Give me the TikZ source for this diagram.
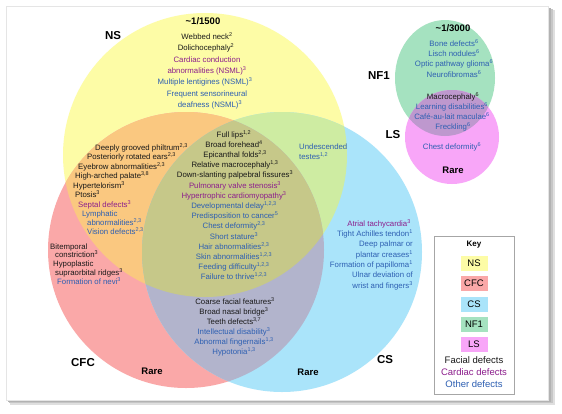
\documentclass[tikz,border=0pt]{standalone}
\usepackage{fontspec}
\setmainfont{Liberation Sans}
\newcommand\sups[1]{\textsuperscript{#1}}
\definecolor{nsC}{RGB}{253,252,166}
\definecolor{cfcC}{RGB}{250,168,168}
\definecolor{csC}{RGB}{170,228,250}
\definecolor{nscfc}{RGB}{250,200,128}
\definecolor{nscs}{RGB}{206,236,162}
\definecolor{cfccs}{RGB}{178,180,204}
\definecolor{allC}{RGB}{198,200,137}
\definecolor{nfC}{RGB}{165,226,192}
\definecolor{lsC}{RGB}{248,166,248}
\definecolor{nflsC}{RGB}{190,152,206}
\definecolor{facC}{RGB}{25,25,25}
\definecolor{carC}{RGB}{140,30,140}
\definecolor{othC}{RGB}{45,95,178}
\begin{document}
\begin{tikzpicture}[x=1pt,y=-1pt,
  tx/.style={font=\fontsize{7.8}{8.5}\selectfont, inner sep=0pt, anchor=mid},
  fa/.style={tx, text=facC},
  ca/.style={tx, text=carC},
  ot/.style={tx, text=othC},
  biglab/.style={font=\bfseries\fontsize{11.5}{13}\selectfont, inner sep=0pt, text=black, anchor=mid},
  rarelab/.style={font=\bfseries\fontsize{9.5}{11}\selectfont, inner sep=0pt, text=black, anchor=mid},
  freqlab/.style={font=\bfseries\fontsize{9.5}{10}\selectfont, inner sep=0pt, text=black, anchor=mid},
  swatch/.style={minimum width=27pt, minimum height=15pt, inner sep=0pt, font=\fontsize{9.5}{10}\selectfont, text=black},
  keytx/.style={font=\fontsize{9.5}{10}\selectfont, inner sep=0pt, anchor=mid}
]
\useasboundingbox (0,0) rectangle (562,413);
\fill[white] (0,0) rectangle (562,413);
% panel with shadow
\fill[gray!25] (10,10) rectangle (555,405);
\fill[gray!45] (9,9) rectangle (553,403);
\fill[gray!60] (8,8) rectangle (551,401.5);
\filldraw[fill=white, draw=gray!20, line width=0.5pt] (6,6) rectangle (548,400);
% circle paths
\def\NSp{(205,155) circle[radius=142pt]}
\def\CFCp{(186,250) circle[radius=138pt]}
\def\CSp{(282,252) circle[radius=140pt]}
\def\NFp{(445,78) ellipse[x radius=50pt, y radius=58pt]}
\def\LSp{(452,137) circle[radius=47pt]}
\fill[nsC] \NSp;
\fill[cfcC] \CFCp;
\fill[csC] \CSp;
\begin{scope}\clip \NSp; \fill[nscfc] \CFCp; \end{scope}
\begin{scope}\clip \NSp; \fill[nscs] \CSp; \end{scope}
\begin{scope}\clip \CFCp; \fill[cfccs] \CSp; \end{scope}
\begin{scope}\clip \NSp; \clip \CFCp; \fill[allC] \CSp; \end{scope}
\fill[nfC] \NFp;
\fill[lsC] \LSp;
\begin{scope}\clip \NFp; \fill[nflsC] \LSp; \end{scope}
% labels
\node[biglab] (lNS) at (113,37) {NS};
\node[biglab] (lCFC) at (83,364) {CFC};
\node[biglab] (lCS) at (385,361) {CS};
\node[biglab] (lNF) at (379,77) {NF1};
\node[biglab] (lLS) at (393,136) {LS};
\node[rarelab] (rCFC) at (152,372) {Rare};
\node[rarelab] (rCS) at (308,373) {Rare};
\node[rarelab] (rLS) at (453,171) {Rare};
\node[freqlab] (fNS) at (203,22) {\textasciitilde1/1500};
\node[freqlab] (fNF) at (453,29) {\textasciitilde1/3000};
% NS only
\node[fa] (a1) at (207,37) {Webbed neck\sups{2}};
\node[fa] (a2) at (206,48) {Dolichocephaly\sups{2}};
\node[ca] (a3) at (207,60) {Cardiac conduction};
\node[ca] (a4) at (207,71) {abnormalities (NSML)\sups{3}};
\node[ot] (a5) at (205,82) {Multiple lentigines (NSML)\sups{3}};
\node[ot] (a6) at (207,94) {Frequent sensorineural};
\node[ot] (a7) at (210,105) {deafness (NSML)\sups{3}};
% NS & CFC
\node[fa, anchor=mid west] (b1) at (95,148) {Deeply grooved philtrum\sups{2,3}};
\node[fa, anchor=mid west] (b2) at (87,157) {Posteriorly rotated ears\sups{2,3}};
\node[fa, anchor=mid west] (b3) at (78,167) {Eyebrow abnormalities\sups{2,3}};
\node[fa, anchor=mid west] (b4) at (75,176) {High-arched palate\sups{3,8}};
\node[fa, anchor=mid west] (b5) at (73,186) {Hypertelorism\sups{3}};
\node[fa, anchor=mid west] (b6) at (75,195) {Ptosis\sups{3}};
\node[ca, anchor=mid west] (b7) at (78,205) {Septal defects\sups{3}};
\node[ot, anchor=mid west] (b8) at (82,214) {Lymphatic};
\node[ot, anchor=mid west] (b9) at (87,223) {abnormalities\sups{2,3}};
\node[ot, anchor=mid west] (b10) at (87,232) {Vision defects\sups{2,3}};
% all three
\node[fa] (c1) at (234,135) {Full lips\sups{1,2}};
\node[fa] (c2) at (234,145) {Broad forehead\sups{4}};
\node[fa] (c3) at (235,155) {Epicanthal folds\sups{2,3}};
\node[fa] (c4) at (235,165) {Relative macrocephaly\sups{1,3}};
\node[fa] (c5) at (235,175) {Down-slanting palpebral fissures\sups{3}};
\node[ca] (c6) at (235,186) {Pulmonary valve stenosis\sups{3}};
\node[ca] (c7) at (234,196) {Hypertrophic cardiomyopathy\sups{3}};
\node[ot] (c8) at (234,206) {Developmental delay\sups{1,2,3}};
\node[ot] (c9) at (235,216) {Predisposition to cancer\sups{5}};
\node[ot] (c10) at (234,226) {Chest deformity\sups{2,3}};
\node[ot] (c11) at (234,237) {Short stature\sups{3}};
\node[ot] (c12) at (234,247) {Hair abnormalities\sups{2,3}};
\node[ot] (c13) at (234,257) {Skin abnormalities\sups{1,2,3}};
\node[ot] (c14) at (234,267) {Feeding difficulty\sups{1,2,3}};
\node[ot] (c15) at (234,277) {Failure to thrive\sups{1,2,3}};
% NS & CS
\node[ot, anchor=mid west] (d1) at (299,147) {Undescended};
\node[ot, anchor=mid west] (d2) at (299,157) {testes\sups{1,2}};
% CS only
\node[ca, anchor=mid east] (e1) at (411,224) {Atrial tachycardia\sups{3}};
\node[ot, anchor=mid east] (e2) at (413,234) {Tight Achilles tendon\sups{1}};
\node[ot, anchor=mid east] (e3) at (413,244) {Deep palmar or};
\node[ot, anchor=mid east] (e4) at (413,255) {plantar creases\sups{1}};
\node[ot, anchor=mid east] (e5) at (413,265) {Formation of papilloma\sups{1}};
\node[ot, anchor=mid east] (e6) at (413,275) {Ulnar deviation of};
\node[ot, anchor=mid east] (e7) at (413,286) {wrist and fingers\sups{3}};
% CFC only
\node[fa, anchor=mid west] (f1) at (50,247) {Bitemporal};
\node[fa, anchor=mid west] (f2) at (55,255) {constriction\sups{3}};
\node[fa, anchor=mid west] (f3) at (53,264) {Hypoplastic};
\node[fa, anchor=mid west] (f4) at (55,273) {supraorbital ridges\sups{3}};
\node[ot, anchor=mid west] (f5) at (57,282) {Formation of nevi\sups{3}};
% CFC & CS
\node[fa] (g1) at (235,302) {Coarse facial features\sups{3}};
\node[fa] (g2) at (234,312) {Broad nasal bridge\sups{3}};
\node[fa] (g3) at (234,322) {Teeth defects\sups{3,7}};
\node[ot] (g4) at (234,332) {Intellectual disability\sups{3}};
\node[ot] (g5) at (234,342) {Abnormal fingernails\sups{1,3}};
\node[ot] (g6) at (234,352) {Hypotonia\sups{1,3}};
% NF1
\node[ot] (h1) at (454,44) {Bone defects\sups{6}};
\node[ot] (h2) at (454,54) {Lisch nodules\sups{6}};
\node[ot] (h3) at (454,64) {Optic pathway glioma\sups{6}};
\node[ot] (h4) at (454,75) {Neurofibromas\sups{6}};
\node[fa] (h5) at (453,97) {Macrocephaly\sups{6}};
\node[ot] (h6) at (452,107) {Learning disabilities\sups{6}};
\node[ot] (h7) at (452,117) {Café-au-lait maculae\sups{6}};
\node[ot] (h8) at (453,127) {Freckling\sups{6}};
\node[ot] (h9) at (452,147) {Chest deformity\sups{6}};
% key
\draw[gray!70, line width=0.6pt] (434,236) rectangle (514,394);
\node[font=\bfseries\fontsize{8}{9}\selectfont, inner sep=0pt, anchor=mid] (kt) at (474,244) {Key};
\node[swatch, fill=nsC] (k1) at (474,263) {NS};
\node[swatch, fill=cfcC] (k2) at (474,283.5) {CFC};
\node[swatch, fill=csC] (k3) at (474,304.5) {CS};
\node[swatch, fill=nfC] (k4) at (474,324.5) {NF1};
\node[swatch, fill=lsC] (k5) at (474,344.5) {LS};
\node[keytx, text=facC] (k6) at (474,361) {Facial defects};
\node[keytx, text=carC] (k7) at (474,373) {Cardiac defects};
\node[keytx, text=othC] (k8) at (474,385) {Other defects};
\end{tikzpicture}
\end{document}
